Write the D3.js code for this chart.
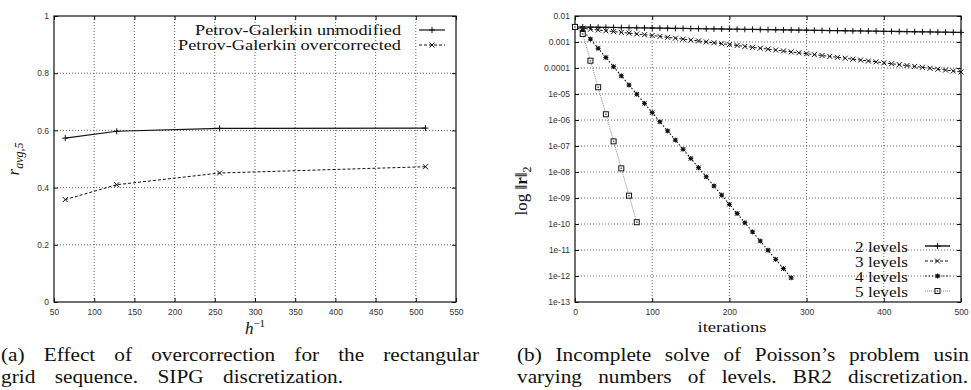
<!DOCTYPE html>
<html><head><meta charset="utf-8">
<script src="https://cdn.jsdelivr.net/npm/d3@7"></script>
<style>
html,body{margin:0;padding:0;background:#fff;}
svg{display:block;}
.tick text{font-family:"Liberation Sans",Arial,sans-serif;font-size:8.5px;fill:#333;}
.serif{font-family:"Liberation Serif","DejaVu Serif",serif;fill:#111;}
</style></head>
<body>
<script>
// ---------- Data: left chart ----------
const hInv = [64, 128, 256, 512];
const pgUnmodified = [0.573, 0.597, 0.607, 0.608];
const pgOvercorrected = [0.358, 0.410, 0.451, 0.473];
const leftXTicks = [50,100,150,200,250,300,350,400,450,500,550];
const leftYTicks = [0,0.2,0.4,0.6,0.8,1];
const leftYTickLabels = ["0","0.2","0.4","0.6","0.8","1"];
const leftLegend = ["Petrov-Galerkin unmodified","Petrov-Galerkin overcorrected"];

// ---------- Data: right chart ----------
const iters2 = [0,10,20,30,40,50,60,70,80,90,100,110,120,130,140,150,160,170,180,190,200,210,220,230,240,250,260,270,280,290,300,310,320,330,340,350,360,370,380,390,400,410,420,430,440,450,460,470,480,490,500];
const res2 = [3.80e-3,3.76e-3,3.73e-3,3.69e-3,3.66e-3,3.62e-3,3.59e-3,3.55e-3,3.52e-3,3.48e-3,3.45e-3,3.42e-3,3.38e-3,3.35e-3,3.32e-3,3.29e-3,3.26e-3,3.22e-3,3.19e-3,3.16e-3,3.13e-3,3.10e-3,3.07e-3,3.05e-3,3.02e-3,2.99e-3,2.96e-3,2.93e-3,2.90e-3,2.87e-3,2.84e-3,2.82e-3,2.79e-3,2.76e-3,2.74e-3,2.71e-3,2.68e-3,2.66e-3,2.63e-3,2.61e-3,2.58e-3,2.56e-3,2.53e-3,2.51e-3,2.48e-3,2.46e-3,2.44e-3,2.41e-3,2.39e-3,2.36e-3,2.34e-3];
const iters3 = [0,10,20,30,40,50,60,70,80,90,100,110,120,130,140,150,160,170,180,190,200,210,220,230,240,250,260,270,280,290,300,310,320,330,340,350,360,370,380,390,400,410,420,430,440,450,460,470,480,490,500];
const res3 = [3.80e-3,3.39e-3,3.09e-3,2.88e-3,2.69e-3,2.51e-3,2.34e-3,2.19e-3,2.04e-3,1.91e-3,1.78e-3,1.64e-3,1.51e-3,1.40e-3,1.29e-3,1.19e-3,1.10e-3,1.01e-3,9.33e-4,8.61e-4,7.94e-4,7.33e-4,6.76e-4,6.24e-4,5.75e-4,5.31e-4,4.90e-4,4.52e-4,4.17e-4,3.85e-4,3.55e-4,3.27e-4,3.02e-4,2.79e-4,2.57e-4,2.37e-4,2.19e-4,2.02e-4,1.86e-4,1.72e-4,1.58e-4,1.46e-4,1.35e-4,1.24e-4,1.15e-4,1.06e-4,9.77e-5,9.02e-5,8.32e-5,7.67e-5,7.08e-5];
const iters4 = [0,10,20,30,40,50,60,70,80,90,100,110,120,130,140,150,160,170,180,190,200,210,220,230,240,250,260,270,280];
const res4 = [3.80e-3,2.82e-3,1.29e-3,5.71e-4,2.54e-4,1.12e-4,4.99e-5,2.21e-5,9.82e-6,4.36e-6,1.93e-6,8.57e-7,3.80e-7,1.69e-7,7.48e-8,3.32e-8,1.47e-8,6.53e-9,2.90e-9,1.29e-9,5.70e-10,2.53e-10,1.12e-10,4.98e-11,2.21e-11,9.80e-12,4.35e-12,1.93e-12,8.55e-13];
const iters5 = [0,10,20,30,40,50,60,70,80];
const res5 = [3.80e-3,2.04e-3,1.91e-4,1.82e-5,1.66e-6,1.51e-7,1.38e-8,1.23e-9,1.17e-10];
const rightXTicks = [0,100,200,300,400,500];
const rightYTicks = [1e-13,1e-12,1e-11,1e-10,1e-9,1e-8,1e-7,1e-6,1e-5,1e-4,1e-3,1e-2];
const rightYTickLabels = ["1e-13","1e-12","1e-11","1e-10","1e-09","1e-08","1e-07","1e-06","1e-05","0.0001","0.001","0.01"];
const rightLegend = ["2 levels","3 levels","4 levels","5 levels"];

const W = 971, H = 390;
const svg = d3.select("body").append("svg").attr("width", W).attr("height", H);
svg.append("rect").attr("width", W).attr("height", H).attr("fill", "#fff");

// stretch a text to a target width: first scale glyphs a bit, then put the rest into word gaps
function fitText(sel, target, size, maxGlyphStretch) {
  sel.attr("font-size", size);
  const n = sel.node();
  const w = n.getComputedTextLength();
  const spaces = (sel.text().match(/ /g) || []).length;
  const glyphW = Math.min(target, w * maxGlyphStretch);
  if (spaces > 0 && glyphW < target) {
    // word spacing measured in unscaled units
    sel.attr("word-spacing", (target - glyphW) / spaces * (w / glyphW));
  }
  sel.attr("textLength", target).attr("lengthAdjust", "spacingAndGlyphs");
}

const mk = {
  plus: "M-3,0H3M0,-3V3",
  cross: "M-2.5,-2.5L2.5,2.5M-2.5,2.5L2.5,-2.5",
  star: "M-2.5,0H2.5M0,-2.5V2.5M-2.2,-2.2L2.2,2.2M-2.2,2.2L2.2,-2.2"
};
function drawMarker(g, type, x, y, color) {
  if (type === "box") {
    g.append("rect").attr("x", x-2.5).attr("y", y-2.5).attr("width", 5).attr("height", 5)
      .attr("fill", "#fff").attr("stroke", "#111").attr("stroke-width", 1);
    g.append("rect").attr("x", x-0.8).attr("y", y-0.8).attr("width", 1.6).attr("height", 1.6).attr("fill", "#666");
  } else if (type === "star") {
    g.append("rect").attr("x", x-1.6).attr("y", y-1.6).attr("width", 3.2).attr("height", 3.2).attr("fill", "#222");
    g.append("path").attr("d", mk.star).attr("transform", `translate(${x},${y})`)
      .attr("stroke", "#111").attr("stroke-width", 1).attr("fill", "none");
  } else {
    g.append("path").attr("d", mk[type]).attr("transform", `translate(${x},${y})`)
      .attr("stroke", color || "#111").attr("stroke-width", 1).attr("fill", "none");
  }
}

function frame(g, x, y, xTicks, yTicks, xFmt, yFmt, x0, x1, y0, y1) {
  const grid = g.append("g");
  xTicks.forEach(t => {
    const px = x(t);
    if (px > x0 + 1 && px < x1 - 1)
      grid.append("line").attr("x1", px).attr("x2", px).attr("y1", y0).attr("y2", y1)
        .attr("stroke", "#555").attr("stroke-width", 0.9).attr("stroke-dasharray", "1,2");
  });
  yTicks.forEach(t => {
    const py = y(t);
    if (py > y0 + 1 && py < y1 - 1)
      grid.append("line").attr("x1", x0).attr("x2", x1).attr("y1", py).attr("y2", py)
        .attr("stroke", "#555").attr("stroke-width", 0.9).attr("stroke-dasharray", "1,2");
  });
  g.append("g").attr("transform", `translate(0,${y1})`)
    .call(d3.axisBottom(x).tickValues(xTicks).tickFormat(xFmt).tickSize(0).tickPadding(7))
    .call(a => a.select(".domain").remove());
  g.append("g").attr("transform", `translate(${x0},0)`)
    .call(d3.axisLeft(y).tickValues(yTicks).tickFormat(yFmt).tickSize(0).tickPadding(5))
    .call(a => a.select(".domain").remove());
  g.append("g").attr("transform", `translate(0,${y1})`)
    .call(d3.axisBottom(x).tickValues(xTicks).tickFormat("").tickSize(-4))
    .call(a => a.select(".domain").remove());
  g.append("g").attr("transform", `translate(0,${y0})`)
    .call(d3.axisTop(x).tickValues(xTicks).tickFormat("").tickSize(-4))
    .call(a => a.select(".domain").remove());
  g.append("g").attr("transform", `translate(${x0},0)`)
    .call(d3.axisLeft(y).tickValues(yTicks).tickFormat("").tickSize(-4))
    .call(a => a.select(".domain").remove());
  g.append("g").attr("transform", `translate(${x1},0)`)
    .call(d3.axisRight(y).tickValues(yTicks).tickFormat("").tickSize(-4))
    .call(a => a.select(".domain").remove());
  g.selectAll(".tick line").attr("stroke", "#111");
  g.append("rect").attr("x", x0).attr("y", y0).attr("width", x1 - x0).attr("height", y1 - y0)
    .attr("fill", "none").attr("stroke", "#111").attr("stroke-width", 1.2);
}

// ================= LEFT CHART =================
const L = {x0: 54, x1: 456, y0: 16, y1: 302};
const xL = d3.scaleLinear().domain([50, 550]).range([L.x0, L.x1]);
const yL = d3.scaleLinear().domain([0, 1]).range([L.y1, L.y0]);
const gL = svg.append("g");
frame(gL, xL, yL, leftXTicks, leftYTicks, d => String(d), (d, i) => leftYTickLabels[i], L.x0, L.x1, L.y0, L.y1);

const lineL = d3.line().x(d => xL(d[0])).y(d => yL(d[1]));
const sU = hInv.map((h, i) => [h, pgUnmodified[i]]);
const sO = hInv.map((h, i) => [h, pgOvercorrected[i]]);
gL.append("path").attr("d", lineL(sU)).attr("fill", "none").attr("stroke", "#111").attr("stroke-width", 1.2);
gL.append("path").attr("d", lineL(sO)).attr("fill", "none").attr("stroke", "#111").attr("stroke-width", 1).attr("stroke-dasharray", "3,2");
sU.forEach(d => drawMarker(gL, "plus", xL(d[0]), yL(d[1])));
sO.forEach(d => drawMarker(gL, "cross", xL(d[0]), yL(d[1])));

const legL = gL.append("g");
[[35, null, "plus"], [50, "3,2", "cross"]].forEach((r, i) => {
  const t = legL.append("text").attr("class", "serif").attr("x", 401).attr("y", r[0]).attr("text-anchor", "end")
    .text(leftLegend[i]);
  fitText(t, i === 0 ? 206 : 223, 15, 1.3);
  const ly = r[0] - 5;
  legL.append("line").attr("x1", 419).attr("x2", 445).attr("y1", ly).attr("y2", ly).attr("stroke", "#111")
    .attr("stroke-width", i === 0 ? 1.2 : 1).attr("stroke-dasharray", r[1]);
  drawMarker(legL, r[2], 432, ly);
});

const yLab = svg.append("text").attr("class", "serif").attr("transform", "translate(19,159) rotate(-90)")
  .attr("text-anchor", "middle").attr("font-size", 17);
yLab.append("tspan").attr("font-style", "italic").text("r");
yLab.append("tspan").attr("font-style", "italic").attr("font-size", 12).attr("dy", 4).text("avg,5");
const xLab = svg.append("text").attr("class", "serif").attr("x", 255).attr("y", 334).attr("text-anchor", "middle").attr("font-size", 17);
xLab.append("tspan").attr("font-style", "italic").text("h");
xLab.append("tspan").attr("font-size", 11).attr("dy", -7).text("−1");

// ================= RIGHT CHART =================
const R = {x0: 575, x1: 961, y0: 16, y1: 302};
const xR = d3.scaleLinear().domain([0, 500]).range([R.x0, R.x1]);
const yR = d3.scaleLog().domain([1e-13, 1e-2]).range([R.y1, R.y0]);
const gR = svg.append("g");
frame(gR, xR, yR, rightXTicks, rightYTicks, d => String(d), (d, i) => rightYTickLabels[i], R.x0, R.x1, R.y0, R.y1);

const lineR = d3.line().x(d => xR(d[0])).y(d => yR(d[1]));
const series = [
  {it: iters2, v: res2, dash: null, stroke: "#222", w: 1.3, m: "plus"},
  {it: iters3, v: res3, dash: "3,2", stroke: "#111", w: 1, m: "cross"},
  {it: iters4, v: res4, dash: "1.5,2", stroke: "#111", w: 1.1, m: "star"},
  {it: iters5, v: res5, dash: "1,1", stroke: "#888", w: 1, m: "box"}
];
series.forEach(s => {
  const pts = s.it.map((t, i) => [t, s.v[i]]);
  gR.append("path").attr("d", lineR(pts)).attr("fill", "none").attr("stroke", s.stroke)
    .attr("stroke-width", s.w).attr("stroke-dasharray", s.dash);
});
series.forEach(s => {
  s.it.forEach((t, i) => drawMarker(gR, s.m, xR(t), yR(s.v[i])));
});

const legR = gR.append("g");
series.forEach((s, i) => {
  const by = 252 + i * 15;
  const t = legR.append("text").attr("class", "serif").attr("x", 908).attr("y", by).attr("text-anchor", "end")
    .text(rightLegend[i]);
  fitText(t, 53, 15, 1.3);
  const ly = by - 6;
  legR.append("line").attr("x1", 925).attr("x2", 950).attr("y1", ly).attr("y2", ly).attr("stroke", i === 0 ? "#555" : s.stroke)
    .attr("stroke-width", i === 0 ? 2 : s.w).attr("stroke-dasharray", s.dash);
  drawMarker(legR, s.m, 937.5, ly);
});

const yLabR = svg.append("text").attr("class", "serif").attr("transform", "translate(527,191) rotate(-90)")
  .attr("text-anchor", "middle").attr("font-size", 17);
yLabR.append("tspan").text("log ‖");
yLabR.append("tspan").attr("font-weight", "bold").text("r");
yLabR.append("tspan").text("‖");
yLabR.append("tspan").attr("font-size", 12).attr("dy", 4).text("2");
const itl = svg.append("text").attr("class", "serif").attr("x", 732).attr("y", 332).attr("text-anchor", "middle").text("iterations");
fitText(itl, 69, 15, 1.3);

// ================= CAPTIONS =================
const captions = [
  {x: 1, y: 361, len: 478, t: "(a) Effect of overcorrection for the rectangular"},
  {x: 1, y: 383, len: 342, t: "grid sequence. SIPG discretization."},
  {x: 517, y: 361, len: 452, t: "(b) Incomplete solve of Poisson’s problem usin"},
  {x: 517, y: 383, len: 451, t: "varying numbers of levels. BR2 discretization."}
];
captions.forEach(c => {
  const t = svg.append("text").attr("class", "serif").attr("x", c.x).attr("y", c.y).text(c.t);
  fitText(t, c.len, 19, 1.12);
});
</script>
</body></html>
